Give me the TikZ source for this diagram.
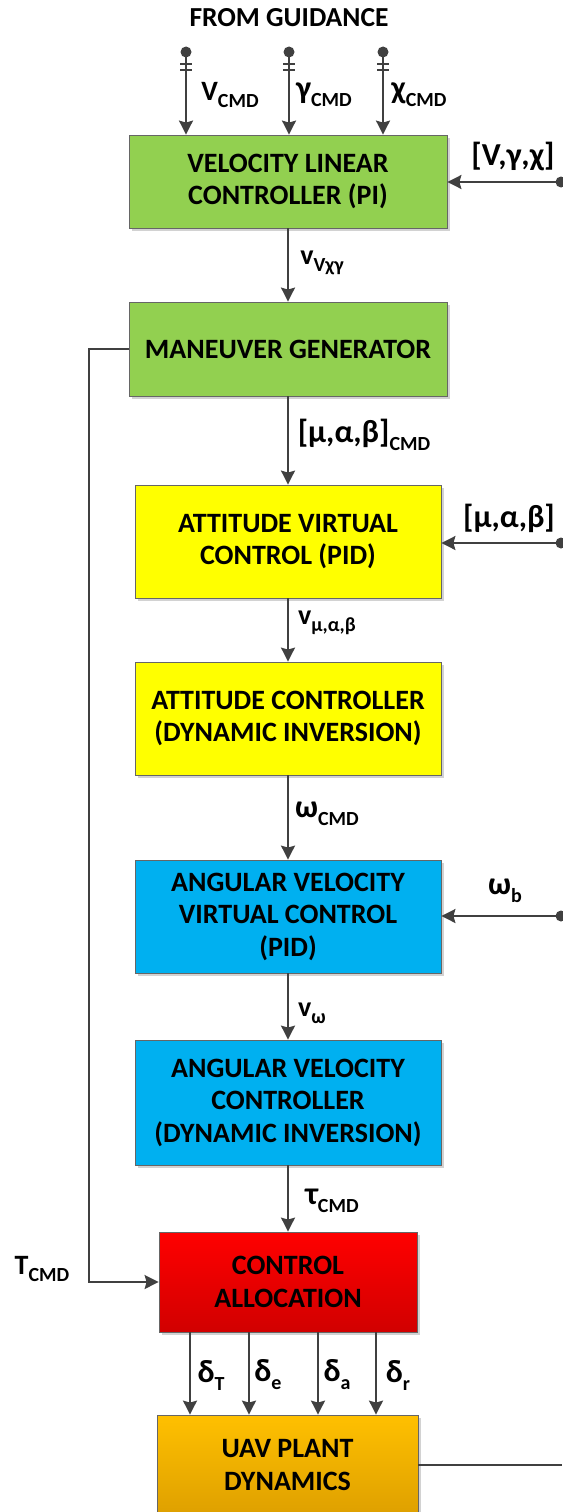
\documentclass[tikz,border=0pt]{standalone}
\usepackage{fontspec}
\setmainfont{Carlito}
\usetikzlibrary{arrows.meta,shadows}
\definecolor{lineg}{HTML}{404040}
\definecolor{bgreen}{HTML}{92D050}
\definecolor{byellow}{HTML}{FFFF00}
\definecolor{bblue}{HTML}{00B0F0}
\newcommand{\lowsub}[1]{\raisebox{-0.25em}{\fontsize{20}{20}\selectfont #1}}
\begin{document}
\begin{tikzpicture}[x=1pt,y=-1pt,
  every node/.style={font=\fontsize{28}{32.5}\selectfont\bfseries, inner sep=0pt},
  blk/.style={draw=gray!80!black, line width=0.8pt, align=center, text=black,
    drop shadow={shadow xshift=2.5pt, shadow yshift=-2.5pt, fill=black!25, opacity=0.7}},
  conn/.style={draw=lineg, line width=1.8pt},
  arr/.style={conn, -{Stealth[length=14pt,width=14pt,inset=2pt]}},
  lbl/.style={anchor=center, text=black, font=\fontsize{28}{30}\selectfont\bfseries},
  glbl/.style={anchor=center, text=black, font=\fontsize{32}{34}\selectfont\bfseries},
  dotc/.style={circle, fill=lineg, minimum size=11pt, inner sep=0pt}
]
\useasboundingbox (0,0) rectangle (562,1512);

% boxes
\node[blk, fill=bgreen, minimum width=318pt, minimum height=93pt] (b1) at (288,181.5) {VELOCITY LINEAR\\CONTROLLER (PI)};
\node[blk, fill=bgreen, minimum width=318pt, minimum height=94pt] (b2) at (288,349) {MANEUVER GENERATOR};
\node[blk, fill=byellow, minimum width=306pt, minimum height=113pt] (b3) at (288,541.5) {ATTITUDE VIRTUAL\\CONTROL (PID)};
\node[blk, fill=byellow, minimum width=306pt, minimum height=113pt] (b4) at (288,718.5) {ATTITUDE CONTROLLER\\(DYNAMIC INVERSION)};
\node[blk, fill=bblue, minimum width=306pt, minimum height=113pt] (b5) at (288,916.5) {ANGULAR VELOCITY\\VIRTUAL CONTROL\\(PID)};
\node[blk, fill=bblue, minimum width=306pt, minimum height=125pt] (b6) at (288,1102.5) {ANGULAR VELOCITY\\CONTROLLER\\(DYNAMIC INVERSION)};
\node[blk, top color=red!100, bottom color=red!82!black, minimum width=258pt, minimum height=100pt] (b7) at (288,1282) {CONTROL\\ALLOCATION};
\node[blk, top color={rgb,255:red,255;green,192;blue,0}, bottom color={rgb,255:red,222;green,160;blue,0}, minimum width=261pt, minimum height=100pt] (b8) at (287.5,1465) {UAV PLANT\\DYNAMICS};

% top inputs
\node[anchor=center, font=\fontsize{27.5}{30}\selectfont\bfseries] (fg) at (289,18) {FROM GUIDANCE};
\foreach \n/\x in {v/186,g/289,c/383}{
  \node[dotc] (d\n) at (\x,52) {};
  \draw[arr] (d\n.center) -- (d\n.center |- b1.north);
  \draw[conn, line width=1.3pt] (\x-6,64) -- (\x+6,64) (\x-6,70) -- (\x+6,70);
}
\node[lbl] (lv) at (230,95) {V\lowsub{CMD}};
\node[glbl] (lg) at (324,95) {γ\lowsub{CMD}};
\node[glbl] (lc) at (419,95) {χ\lowsub{CMD}};

% right inputs
\node[dotc] (r1) at (561,182) {};
\node[dotc] (r3) at (561,543) {};
\node[dotc] (r5) at (561,916) {};
\draw[arr] (r1.center) -- (r1.center -| b1.east);
\draw[arr] (r3.center) -- (r3.center -| b3.east);
\draw[arr] (r5.center) -- (r5.center -| b5.east);
\node[glbl] (l1) at (513,156) {[V,γ,χ]};
\node[glbl] (l3) at (509,518) {[μ,α,β]};
\node[glbl] (l5) at (505,891) {ω\lowsub{b}};

% main chain
\draw[arr] (b1.south) -- (b2.north);
\draw[arr] (b2.south) -- (b3.north);
\draw[arr] (b3.south) -- (b4.north);
\draw[arr] (b4.south) -- (b5.north);
\draw[arr] (b5.south) -- (b6.north);
\draw[arr] (b6.south) -- (b7.north);
\node[lbl] (m1) at (322,263) {v\lowsub{Vχγ}};
\node[glbl] (m2) at (364,435) {[μ,α,β]\lowsub{CMD}};
\node[lbl] (m3) at (327,623) {v\lowsub{μ,α,β}};
\node[glbl] (m4) at (327,814) {ω\lowsub{CMD}};
\node[lbl] (m5) at (312,1013) {v\lowsub{ω}};
\node[glbl] (m6) at (332,1201) {τ\lowsub{CMD}};

% feedback from maneuver generator
\coordinate (fl) at (89,349);
\draw[arr] (b2.west) -- (fl) |- (b7.west);
\node[lbl] (tc) at (42,1269) {T\lowsub{CMD}};

% control allocation outputs
\foreach \n/\x in {t/190,e/249,a/318,r/376}{
  \coordinate (o\n) at (\x,1332);
  \draw[arr] (o\n |- b7.south) -- (o\n |- b8.north);
}
\node[glbl] (dt) at (211,1375) {δ\lowsub{T}};
\node[glbl] (de) at (268,1375) {δ\lowsub{e}};
\node[glbl] (da) at (337,1375) {δ\lowsub{a}};
\node[glbl] (dr) at (398,1375) {δ\lowsub{r}};

% plant output
\coordinate (po) at (562,1465);
\draw[conn] (b8.east) -- (po);
\end{tikzpicture}
\end{document}
